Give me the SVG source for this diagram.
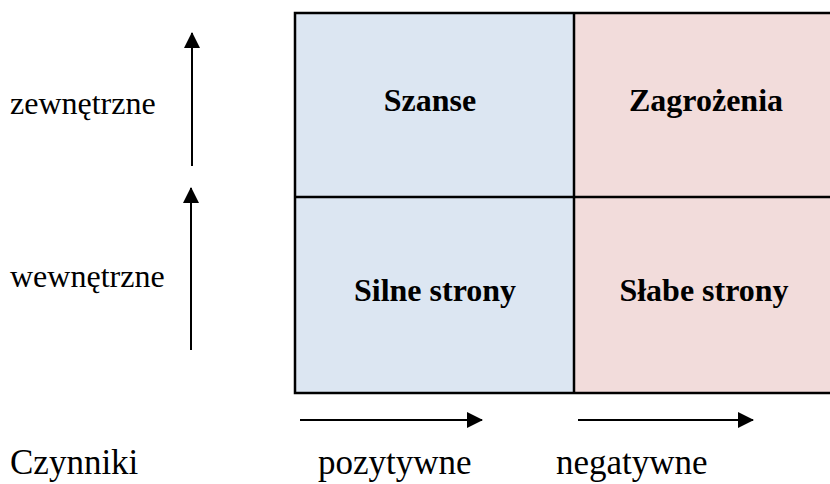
<svg xmlns="http://www.w3.org/2000/svg" width="830" height="484" viewBox="0 0 830 484">
  <style>
    .lbl { font-family: "Liberation Serif", "Times New Roman", "DejaVu Serif", serif; font-size: 32px; fill: #000; }
    .axis { font-size: 35px; }
    .cell-lbl { font-family: "Liberation Serif", "Times New Roman", "DejaVu Serif", serif; font-size: 32px; font-weight: bold; fill: #000; text-anchor: middle; }
    .pos { fill: #dce6f2; }
    .neg { fill: #f2dcdb; }
    .grid { fill: none; stroke: #000; stroke-width: 2.5; }
    .arr { fill: none; stroke: #000; stroke-width: 2; }
  </style>
  <defs>
    <marker id="head" viewBox="0 0 16 16" refX="15" refY="8" markerWidth="16" markerHeight="16" markerUnits="userSpaceOnUse" orient="auto">
      <path d="M0,0 L16,8 L0,16 Z" fill="#000"/>
    </marker>
  </defs>

  <rect width="830" height="484" fill="#fff"/>

  <g id="szanse">
    <rect class="pos" x="295" y="13" width="279" height="184"/>
    <text class="cell-lbl" x="430" y="111">Szanse</text>
  </g>
  <g id="zagrozenia">
    <rect class="neg" x="574" y="13" width="258" height="184"/>
    <text class="cell-lbl" x="706" y="111">Zagrożenia</text>
  </g>
  <g id="silne-strony">
    <rect class="pos" x="295" y="197" width="279" height="196"/>
    <text class="cell-lbl" x="435" y="301">Silne strony</text>
  </g>
  <g id="slabe-strony">
    <rect class="neg" x="574" y="197" width="258" height="196"/>
    <text class="cell-lbl" x="704" y="301">Słabe strony</text>
  </g>
  <g id="grid-lines">
    <rect class="grid" x="295" y="13" width="540" height="380"/>
    <line class="grid" x1="574" y1="13" x2="574" y2="393"/>
    <line class="grid" x1="295" y1="197" x2="835" y2="197"/>
  </g>

  <g id="connectors">
    <line class="arr" x1="192" y1="166" x2="192" y2="33" marker-end="url(#head)"/>
    <line class="arr" x1="191" y1="350" x2="191" y2="188" marker-end="url(#head)"/>
    <line class="arr" x1="300" y1="420" x2="482" y2="420" marker-end="url(#head)"/>
    <line class="arr" x1="578" y1="420" x2="753" y2="420" marker-end="url(#head)"/>
  </g>

  <g id="labels">
    <text class="lbl" x="10" y="114">zewnętrzne</text>
    <text class="lbl" x="10" y="287">wewnętrzne</text>
    <text class="lbl axis" x="10" y="474">Czynniki</text>
    <text class="lbl axis" x="318" y="474">pozytywne</text>
    <text class="lbl axis" x="556" y="474">negatywne</text>
  </g>
</svg>
